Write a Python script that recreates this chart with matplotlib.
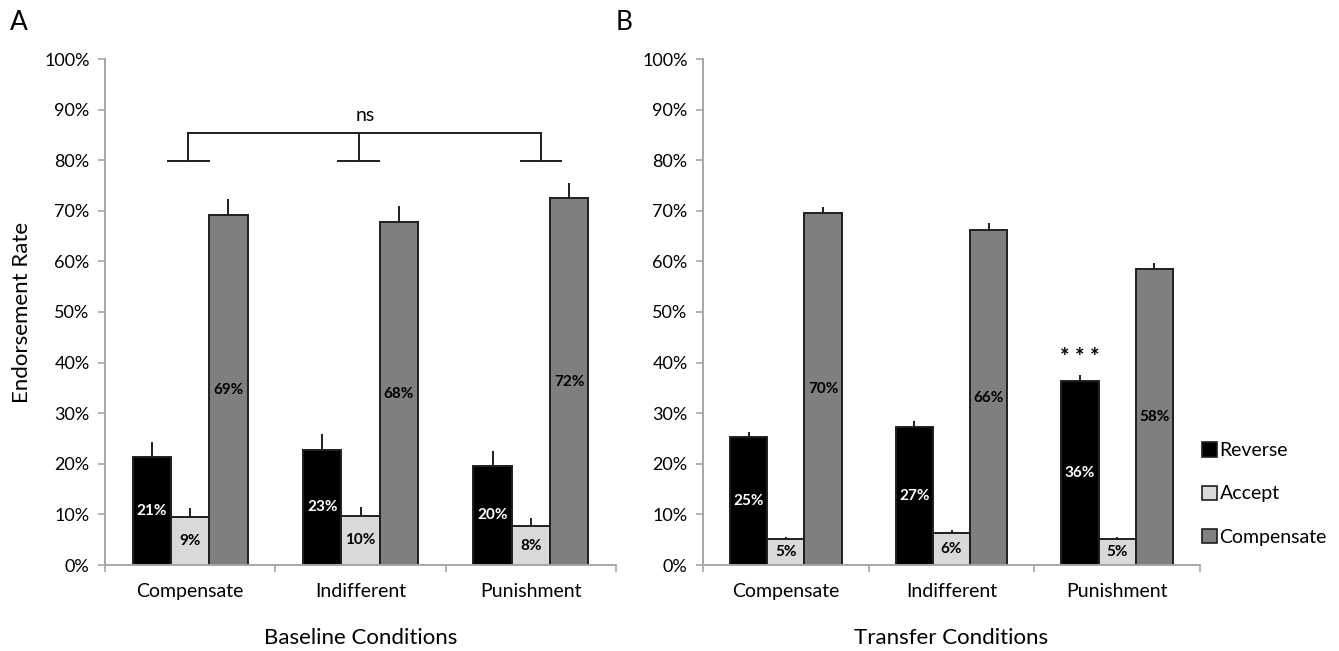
import matplotlib
matplotlib.use("Agg")
import matplotlib.pyplot as plt
from matplotlib.patches import Patch
import numpy as np

plt.rcParams['font.family'] = ['Lato', 'DejaVu Sans']

categories = ["Compensate", "Indifferent", "Punishment"]
series = ["Reverse", "Accept", "Compensate"]

# Panel A: baseline conditions (percent) and upper error bars
baseline_reverse = [21.3, 22.8, 19.6]
baseline_accept = [9.4, 9.7, 7.7]
baseline_compensate = [69.2, 67.7, 72.5]
baseline_reverse_err = [3.0, 3.0, 3.0]
baseline_accept_err = [1.8, 1.8, 1.6]
baseline_compensate_err = [3.1, 3.2, 3.0]

# Panel B: transfer conditions (percent) and upper error bars
transfer_reverse = [25.3, 27.2, 36.3]
transfer_accept = [5.2, 6.4, 5.2]
transfer_compensate = [69.5, 66.2, 58.4]
transfer_reverse_err = [1.0, 1.3, 1.3]
transfer_accept_err = [0.4, 0.5, 0.4]
transfer_compensate_err = [1.3, 1.4, 1.3]

fill_colors = ["#000000", "#d9d9d9", "#7f7f7f"]
label_colors = ["white", "black", "black"]
axis_gray = "#a6a6a6"
edge = "#1f1f1f"

fig = plt.figure(figsize=(13.39, 6.51), dpi=100)
ax_a = fig.add_axes([105 / 1339, 1 - 565 / 651, (616 - 105) / 1339, (565 - 59) / 651])
ax_b = fig.add_axes([703 / 1339, 1 - 565 / 651, (1200 - 703) / 1339, (565 - 59) / 651])

width = 0.225
offsets = [-width, 0.0, width]
x = np.arange(len(categories))


def draw_panel(ax, groups, errs, xlabel, show_ylabel):
    for i, (vals, err) in enumerate(zip(groups, errs)):
        pos = x + offsets[i]
        ax.bar(pos, vals, width, color=fill_colors[i], edgecolor=edge,
               linewidth=1.4, zorder=2, label=series[i])
        ax.errorbar(pos, vals, yerr=[np.zeros(len(err)), err], fmt="none",
                    ecolor=edge, elinewidth=1.4, capsize=0, zorder=3)
        for p, v in zip(pos, vals):
            ax.text(p, v / 2, f"{round(v):d}%", ha="center", va="center",
                    fontsize=11, fontweight="bold", color=label_colors[i], zorder=4)
    ax.set_xlim(-0.5, 2.5)
    ax.set_ylim(0, 100)
    ax.set_yticks(np.arange(0, 101, 10))
    ax.set_yticklabels([f"{t}%" for t in range(0, 101, 10)], fontsize=13)
    ax.set_xticks([-0.5, 0.5, 1.5, 2.5])
    ax.set_xticklabels([])
    ax.set_xticks(x, minor=True)
    ax.set_xticklabels(categories, minor=True, fontsize=14)
    ax.tick_params(axis="x", which="minor", length=0, pad=13)
    ax.tick_params(axis="x", which="major", length=5, color=axis_gray, width=1.2)
    ax.tick_params(axis="y", length=5, color=axis_gray, width=1.2, pad=6)
    for side in ("top", "right"):
        ax.spines[side].set_visible(False)
    for side in ("left", "bottom"):
        ax.spines[side].set_color(axis_gray)
        ax.spines[side].set_linewidth(1.4)
    ax.set_xlabel(xlabel, fontsize=16, labelpad=20)
    if show_ylabel:
        ax.set_ylabel("Endorsement Rate", fontsize=16, labelpad=9)


draw_panel(ax_a,
           [baseline_reverse, baseline_accept, baseline_compensate],
           [baseline_reverse_err, baseline_accept_err, baseline_compensate_err],
           "Baseline Conditions", True)
draw_panel(ax_b,
           [transfer_reverse, transfer_accept, transfer_compensate],
           [transfer_reverse_err, transfer_accept_err, transfer_compensate_err],
           "Transfer Conditions", False)

# Significance bracket over the baseline groups
bracket_top, bracket_foot = 85.4, 79.8
legs = [-0.01, 0.99, 2.06]
ax_a.plot([legs[0], legs[-1]], [bracket_top, bracket_top], color=edge, lw=1.4)
for lx in legs:
    ax_a.plot([lx, lx], [bracket_foot, bracket_top], color=edge, lw=1.4)
    ax_a.plot([lx - 0.12, lx + 0.12], [bracket_foot, bracket_foot], color=edge, lw=1.4)
ax_a.text(1.03, 88.8, "ns", ha="center", va="center", fontsize=14)

# Significance marker over the punishment reverse bar
ax_b.text(2 + offsets[0], 41.0, "* * *", ha="center", va="center", fontsize=16,
          fontweight="bold")

legend_handles = [Patch(facecolor=c, edgecolor=edge, linewidth=1.2) for c in fill_colors]
fig.legend(legend_handles, series, loc="center left",
           bbox_to_anchor=(1202 / 1339, 1 - 494 / 651), frameon=False,
           fontsize=14, handlelength=0.75, handleheight=0.75, handletextpad=0.15,
           labelspacing=1.35, borderpad=0, borderaxespad=0)

fig.text(10 / 1339, 1 - 22 / 651, "A", fontsize=19, ha="left", va="center")
fig.text(616 / 1339, 1 - 22 / 651, "B", fontsize=19, ha="left", va="center")

fig.savefig("out.png", dpi=100, facecolor="white")
